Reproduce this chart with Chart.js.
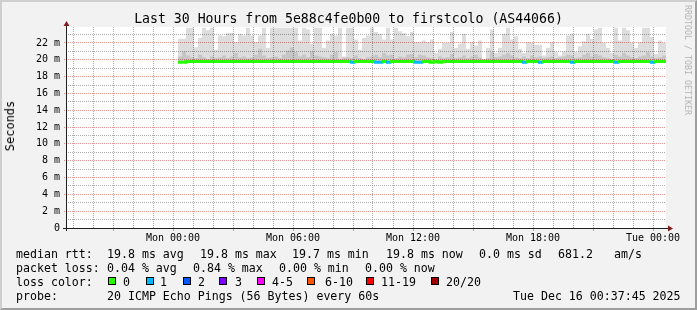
<!DOCTYPE html>
<html>
<head>
<meta charset="utf-8">
<script src="https://cdn.jsdelivr.net/npm/chart.js@4.4.0/dist/chart.umd.min.js"></script>
<style>
    html, body { margin: 0; padding: 0; }
    body { width: 697px; height: 310px; overflow: hidden; position: relative; font-family: "DejaVu Sans Mono", monospace; }
    #frame { position: absolute; left: 0; top: 0; width: 693px; height: 306px; background: #f2f2f2;
        border-top: 2px solid #cfcfcf; border-left: 2px solid #cfcfcf; border-right: 2px solid #9e9e9e; border-bottom: 2px solid #9e9e9e; }
    #chart { position: absolute; left: 0; top: 0; }
    .t { position: absolute; white-space: pre; color: #000; font-size: 11.6px; line-height: 14px; }
    .sw { position: absolute; width: 6px; height: 6px; border: 1px solid #000; top: 277px; }
    #title { position: absolute; left: 0; top: 11px; width: 697px; text-align: center; font-size: 13.2px; line-height: 16px; white-space: pre; }
    #ylab { position: absolute; left: 10px; top: 126px; transform: translate(-50%, -50%) rotate(-90deg); font-size: 12px; white-space: pre; }
    #wm { position: absolute; left: 688px; top: 60px; transform: translate(-50%, -50%) rotate(90deg); font-size: 8.3px; color: #b4b4b4; white-space: pre; }
</style>
</head>
<body>
<div id="frame"></div>
<canvas id="chart" width="697" height="250"></canvas>
<div id="title">Last 30 Hours from 5e88c4fe0b00 to firstcolo (AS44066)</div>
<div id="ylab">Seconds</div>
<div id="wm">RRDTOOL / TOBI OETIKER</div>

<div class="t" style="left:16px;top:247px">median rtt:</div>
<div class="t" style="left:107px;top:247px">19.8 ms avg</div>
<div class="t" style="left:200px;top:247px">19.8 ms max</div>
<div class="t" style="left:292px;top:247px">19.7 ms min</div>
<div class="t" style="left:386px;top:247px">19.8 ms now</div>
<div class="t" style="left:479px;top:247px">0.0 ms sd</div>
<div class="t" style="left:558px;top:247px">681.2</div>
<div class="t" style="left:614px;top:247px">am/s</div>

<div class="t" style="left:16px;top:261px">packet loss:</div>
<div class="t" style="left:107px;top:261px">0.04 % avg</div>
<div class="t" style="left:193px;top:261px">0.84 % max</div>
<div class="t" style="left:279px;top:261px">0.00 % min</div>
<div class="t" style="left:365px;top:261px">0.00 % now</div>

<div class="t" style="left:16px;top:275px">loss color:</div>
<div id="lossLegend"></div>

<div class="t" style="left:16px;top:289px">probe:</div>
<div class="t" style="left:107px;top:289px">20 ICMP Echo Pings (56 Bytes) every 60s</div>
<div class="t" style="left:513px;top:289px">Tue Dec 16 00:37:45 2025</div>

<script>
// hours relative to Mon 00:00, one bucket every 12 minutes
const firstBucket = 0.25;
const bucketHours = 0.2;

// median rtt in ms
const medianRtt = [
    19.7, 19.7, 19.8, 19.8, 19.8, 19.8, 19.8, 19.8, 19.8, 19.8, 19.8, 19.8, 19.8, 19.8, 19.8, 19.8, 19.8, 19.8, 19.8, 19.8,
    19.8, 19.8, 19.8, 19.8, 19.8, 19.8, 19.8, 19.8, 19.8, 19.8, 19.8, 19.8, 19.8, 19.8, 19.8, 19.8, 19.8, 19.8, 19.8, 19.8,
    19.8, 19.8, 19.8, 19.7, 19.8, 19.8, 19.8, 19.8, 19.8, 19.7, 19.7, 19.8, 19.7, 19.8, 19.8, 19.8, 19.8, 19.8, 19.8, 19.7,
    19.7, 19.8, 19.8, 19.7, 19.8, 19.7, 19.8, 19.8, 19.8, 19.8, 19.8, 19.8, 19.8, 19.8, 19.8, 19.8, 19.8, 19.8, 19.8, 19.8,
    19.8, 19.8, 19.8, 19.8, 19.8, 19.8, 19.7, 19.8, 19.8, 19.8, 19.7, 19.8, 19.8, 19.8, 19.8, 19.8, 19.8, 19.8, 19.7, 19.8,
    19.8, 19.8, 19.8, 19.8, 19.8, 19.8, 19.8, 19.8, 19.8, 19.7, 19.8, 19.8, 19.8, 19.8, 19.8, 19.8, 19.8, 19.8, 19.7, 19.8,
    19.8, 19.8
];

// upper edge of the light smoke (max ping), ms
const smokeMax = [
    22.5, 22.5, 23.8, 23.8, 21.5, 22.6, 23.8, 23.5, 23.8, 21.2, 22.9, 22.8, 23.2, 23.2, 22.1, 23.1, 22.9, 23.8, 22.9, 22.1,
    22.9, 23.8, 21.4, 23.8, 23.8, 23.8, 23.8, 23.8, 23.8,
    23.8, 22.3, 23.8, 23.6, 21.9, 23.8, 23.8, 21.4, 22.3, 23.1, 22.9, 23.8, 20.3, 23.8, 23.8, 22.4, 21.2, 22.6, 22.9, 23.8,
    23.3, 23.1, 22.4, 23.8, 22.4, 23.8, 23.4, 23.2, 22.8, 23.3, 22.1,
    22.1, 22.3, 22.1, 22.4, 20.8, 21.3, 22.0, 22.0, 23.3, 21.4, 21.9, 23.1, 21.3, 22.1, 21.7, 22.3, 20.1, 21.4, 23.6, 20.8,
    21.4, 23.1, 23.8, 22.4, 22.8, 21.3, 20.8, 22.1, 22.0, 21.8, 21.8,
    20.5, 21.4, 22.1, 20.9, 20.5, 21.0, 22.9, 23.1, 20.9, 21.6, 22.2, 23.1, 22.5, 23.6, 23.8, 22.0, 21.4, 20.8, 23.8, 22.3,
    23.8, 23.5, 22.0, 21.4, 22.1, 23.8, 23.8, 22.7, 20.7, 22.3, 22.0
];

// upper edge of the darker inner smoke, ms
const smokeInner = [
    20.4, 21.0, 20.5, 20.3, 20.2, 20.6, 20.3, 20.1, 20.4, 20.2, 20.3, 20.5, 20.2, 20.4, 20.8, 20.3, 20.4, 20.2, 20.3, 20.6,
    21.3, 20.5, 20.2, 20.3, 20.4, 20.2, 20.6, 21.1, 21.5,
    20.9, 20.4, 20.6, 20.3, 21.0, 20.5, 20.4, 20.3, 20.2, 20.6, 20.9, 20.1, 20.4, 20.3, 20.2, 20.5, 20.2, 20.1, 20.3, 20.4,
    20.6, 20.3, 20.8, 20.5, 20.6, 20.2, 20.4, 20.3, 20.6, 20.7, 20.3,
    20.6, 20.5, 20.3, 20.2, 20.1, 20.4, 20.2, 20.3, 20.7, 20.2, 20.3, 20.5, 20.2, 20.4, 20.6, 20.3, 20.1, 20.2, 20.9, 20.3,
    20.4, 20.6, 20.8, 20.5, 20.3, 20.2, 20.4, 20.2, 20.5, 20.3, 20.4,
    20.2, 20.3, 20.4, 20.2, 20.3, 20.4, 20.6, 20.5, 20.2, 20.3, 20.6, 20.8, 20.4, 20.7, 20.5, 20.3, 20.2, 20.1, 20.6, 20.4,
    20.8, 20.5, 20.3, 20.2, 20.4, 20.5, 20.9, 20.4, 20.2, 20.3, 20.5
];

// lost pings (of 20) per bucket
const lossPings = [
    0, 0, 0, 0, 0, 0, 0, 0, 0, 0, 0, 0, 0, 0, 0, 0, 0, 0, 0, 0,
    0, 0, 0, 0, 0, 0, 0, 0, 0, 0, 0, 0, 0, 0, 0, 0, 0, 0, 0, 0,
    0, 0, 0, 1, 0, 0, 0, 0, 0, 1, 1, 0, 1, 0, 0, 0, 0, 0, 0, 1,
    1, 0, 0, 0, 0, 0, 0, 0, 0, 0, 0, 0, 0, 0, 0, 0, 0, 0, 0, 0,
    0, 0, 0, 0, 0, 0, 1, 0, 0, 0, 1, 0, 0, 0, 0, 0, 0, 0, 1, 0,
    0, 0, 0, 0, 0, 0, 0, 0, 0, 1, 0, 0, 0, 0, 0, 0, 0, 0, 1, 0,
    0, 0
];

const lossLabels = ['0', '1', '2', '3', '4-5', '6-10', '11-19', '20/20'];
const lossColors = ['#26ff00', '#00b8ff', '#0059ff', '#7e00ff', '#ff00ff', '#ff5500', '#ff0000', '#a10000'];

const xMin = -5.35, xMax = 24.65;   // Sun 18:37 .. Tue 00:37
const yMax = 23.9;
const smokeBase = 19.7;             // smoke drawn upward from the min median

function lossColor(n) {
    if (n <= 3) return lossColors[n];
    if (n <= 5) return lossColors[4];
    if (n <= 10) return lossColors[5];
    if (n <= 19) return lossColors[6];
    return lossColors[7];
}

// legend swatches
const swX = [108, 146, 183, 219, 257, 307, 366, 431];
const lblX = [123, 160, 198, 235, 272, 325, 381, 446];
const lossLegend = document.getElementById('lossLegend');
lossLabels.forEach((lab, i) => {
    const sw = document.createElement('div');
    sw.className = 'sw';
    sw.style.left = swX[i] + 'px';
    sw.style.background = lossColors[i];
    lossLegend.appendChild(sw);
    const t = document.createElement('div');
    t.className = 't';
    t.style.left = lblX[i] + 'px';
    t.style.top = '275px';
    t.textContent = lab;
    lossLegend.appendChild(t);
});

// step series: one point per bucket start, plus the end of the last bucket
const starts = medianRtt.map((v, i) => firstBucket + i * bucketHours);
const endTime = starts[starts.length - 1] + bucketHours;
function steps(values) {
    const pts = starts.map((t, i) => ({ x: t, y: values[i] }));
    pts.push({ x: endTime, y: values[values.length - 1] });
    return pts;
}

const MGRID = 'rgba(222,79,79,0.6)';
const GRID = 'rgba(143,143,143,0.75)';
const NONE = 'rgba(0,0,0,0)';

const hourTicks = [];
for (let h = -5; h <= 24; h++) hourTicks.push(h);
const msTicks = [];
for (let m = 0; m <= 23; m++) msTicks.push(m);

const frameAndAxes = {
    id: 'frameAndAxes',
    beforeDraw(chart) {
        const { ctx, chartArea: a } = chart;
        ctx.save();
        ctx.fillStyle = '#ffffff';
        ctx.fillRect(a.left, a.top, a.right - a.left, a.bottom - a.top);
        ctx.restore();
    },
    afterDraw(chart) {
        const { ctx, chartArea: a } = chart;
        const x0 = a.left + 0.5, y0 = a.bottom + 0.5;
        ctx.save();
        ctx.strokeStyle = '#1f1f1f';
        ctx.lineWidth = 1;
        ctx.beginPath();
        ctx.moveTo(x0, a.bottom + 3);
        ctx.lineTo(x0, a.top - 2);
        ctx.moveTo(a.left - 3, y0);
        ctx.lineTo(a.right + 3, y0);
        ctx.stroke();
        ctx.fillStyle = '#801f1f';
        ctx.beginPath();
        ctx.moveTo(x0, a.top - 6);
        ctx.lineTo(x0 - 3, a.top - 1);
        ctx.lineTo(x0 + 3, a.top - 1);
        ctx.closePath();
        ctx.fill();
        ctx.beginPath();
        ctx.moveTo(a.right + 7, y0);
        ctx.lineTo(a.right + 2, y0 - 3);
        ctx.lineTo(a.right + 2, y0 + 3);
        ctx.closePath();
        ctx.fill();
        ctx.restore();
    }
};

const ctx = document.getElementById('chart').getContext('2d');
new Chart(ctx, {
    type: 'line',
    data: {
        datasets: [
            {
                label: 'median rtt',
                data: steps(medianRtt),
                stepped: true,
                borderWidth: 3,
                borderColor: lossColors[0],
                borderCapStyle: 'butt',
                pointRadius: 0,
                fill: false,
                segment: {
                    borderColor: c => lossColor(lossPings[c.p0DataIndex])
                },
                order: 0
            },
            {
                label: 'inner smoke',
                data: steps(smokeInner),
                stepped: true,
                borderWidth: 0,
                pointRadius: 0,
                backgroundColor: 'rgba(0,0,0,0.1)',
                fill: { value: smokeBase },
                order: 1
            },
            {
                label: 'smoke',
                data: steps(smokeMax),
                stepped: true,
                borderWidth: 0,
                pointRadius: 0,
                backgroundColor: 'rgba(0,0,0,0.135)',
                fill: { value: smokeBase },
                order: 2
            }
        ]
    },
    options: {
        responsive: false,
        animation: false,
        events: [],
        layout: { padding: { left: 0, top: 27, right: 31, bottom: 0 } },
        plugins: {
            legend: { display: false },
            tooltip: { enabled: false },
            title: { display: false }
        },
        scales: {
            x: {
                type: 'linear',
                min: xMin,
                max: xMax,
                offset: false,
                afterBuildTicks: scale => { scale.ticks = hourTicks.map(v => ({ value: v })); },
                afterFit: scale => { scale.height = 22; },
                grid: {
                    offset: false,
                    color: c => (c.tick && c.tick.value % 3 === 0) ? MGRID : GRID,
                    lineWidth: 1,
                    drawTicks: true,
                    tickLength: 3,
                    tickColor: c => (c.tick && c.tick.value % 3 === 0) ? MGRID : NONE
                },
                border: { display: false, dash: [1, 1] },
                ticks: {
                    autoSkip: false,
                    maxRotation: 0,
                    padding: 1,
                    color: '#000',
                    font: { family: 'DejaVu Sans Mono', size: 10 },
                    callback: v => {
                        if (v < 0 || v % 6 !== 0) return '';
                        if (v === 24) return 'Tue 00:00';
                        return 'Mon ' + String(v).padStart(2, '0') + ':00';
                    }
                }
            },
            y: {
                min: 0,
                max: yMax,
                afterBuildTicks: scale => { scale.ticks = msTicks.map(v => ({ value: v })); },
                afterFit: scale => { scale.width = 66; },
                grid: {
                    color: c => {
                        const v = c.tick ? c.tick.value : 0;
                        if (v === 0) return NONE;
                        return v % 2 === 0 ? MGRID : GRID;
                    },
                    lineWidth: 1,
                    drawTicks: true,
                    tickLength: 2,
                    tickBorderDash: [1, 1],
                    tickColor: c => (c.tick && c.tick.value % 2 === 0 && c.tick.value !== 0) ? MGRID : NONE
                },
                border: { display: false, dash: [1, 1] },
                ticks: {
                    autoSkip: false,
                    padding: 4,
                    color: '#000',
                    font: { family: 'DejaVu Sans Mono', size: 10 },
                    callback: v => {
                        if (v % 2 !== 0) return '';
                        return v === 0 ? '0' : v + ' m';
                    }
                }
            }
        }
    },
    plugins: [frameAndAxes]
});
</script>
</body>
</html>
